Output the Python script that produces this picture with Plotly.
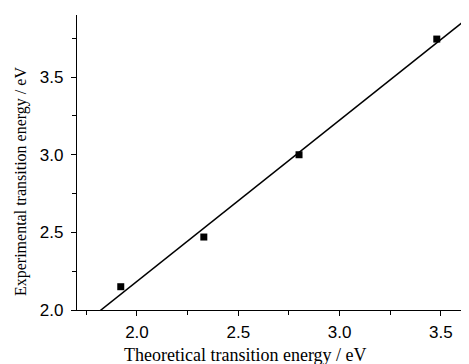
import numpy as np
import plotly.graph_objects as go

theoretical = [1.92, 2.33, 2.80, 3.48]
experimental = [2.15, 2.47, 3.00, 3.745]
x_tickvals = [2.0, 2.5, 3.0, 3.5]
y_tickvals = [2.0, 2.5, 3.0, 3.5]
x_range = [1.704, 3.639]
y_range = [2.0, 3.9]
x_title = "Theoretical transition energy / eV"
y_title = "Experimental transition energy / eV"

slope, intercept = np.polyfit(theoretical, experimental, 1)
fit_x = np.array(x_range)
fit_y = slope * fit_x + intercept

fig = go.Figure()
fig.add_trace(go.Scatter(x=fit_x, y=fit_y, mode="lines",
                         line=dict(color="black", width=1.5), showlegend=False))
fig.add_trace(go.Scatter(x=theoretical, y=experimental, mode="markers",
                         marker=dict(symbol="square", size=7, color="black"),
                         showlegend=False))

axis_common = dict(showline=True, linecolor="black", linewidth=1.2,
                   ticks="outside", ticklen=5, tickwidth=1, tickcolor="black",
                   showgrid=False, zeroline=False, mirror=False,
                   tickfont=dict(family="Liberation Sans, Arial", size=17, color="black"),
                   minor=dict(ticks="outside", ticklen=4, tickwidth=1, tickcolor="black", dtick=0.25, showgrid=False))

fig.update_xaxes(range=x_range, tickvals=x_tickvals, ticktext=[f"{v:.1f}" for v in x_tickvals],
                 ticklabelstandoff=1, **axis_common)
fig.update_yaxes(range=y_range, tickvals=y_tickvals, ticktext=[f"{v:.1f}" for v in y_tickvals],
                 ticklabelstandoff=4, **axis_common)

title_font = dict(family="Liberation Serif, Times New Roman", color="black")
fig.add_annotation(text=x_title, xref="paper", yref="paper", x=0.431, y=-0.152,
                   xanchor="center", yanchor="middle", showarrow=False,
                   font=dict(size=18, **title_font), borderpad=0)
fig.add_annotation(text=y_title, xref="paper", yref="paper", x=-0.143, y=0.437,
                   xanchor="center", yanchor="middle", showarrow=False, textangle=-90,
                   font=dict(size=16, **title_font), borderpad=0)

fig.update_layout(width=461, height=356, plot_bgcolor="white", paper_bgcolor="white",
                  margin=dict(l=69, r=0, t=7, b=54))
fig.write_html("out.html")
